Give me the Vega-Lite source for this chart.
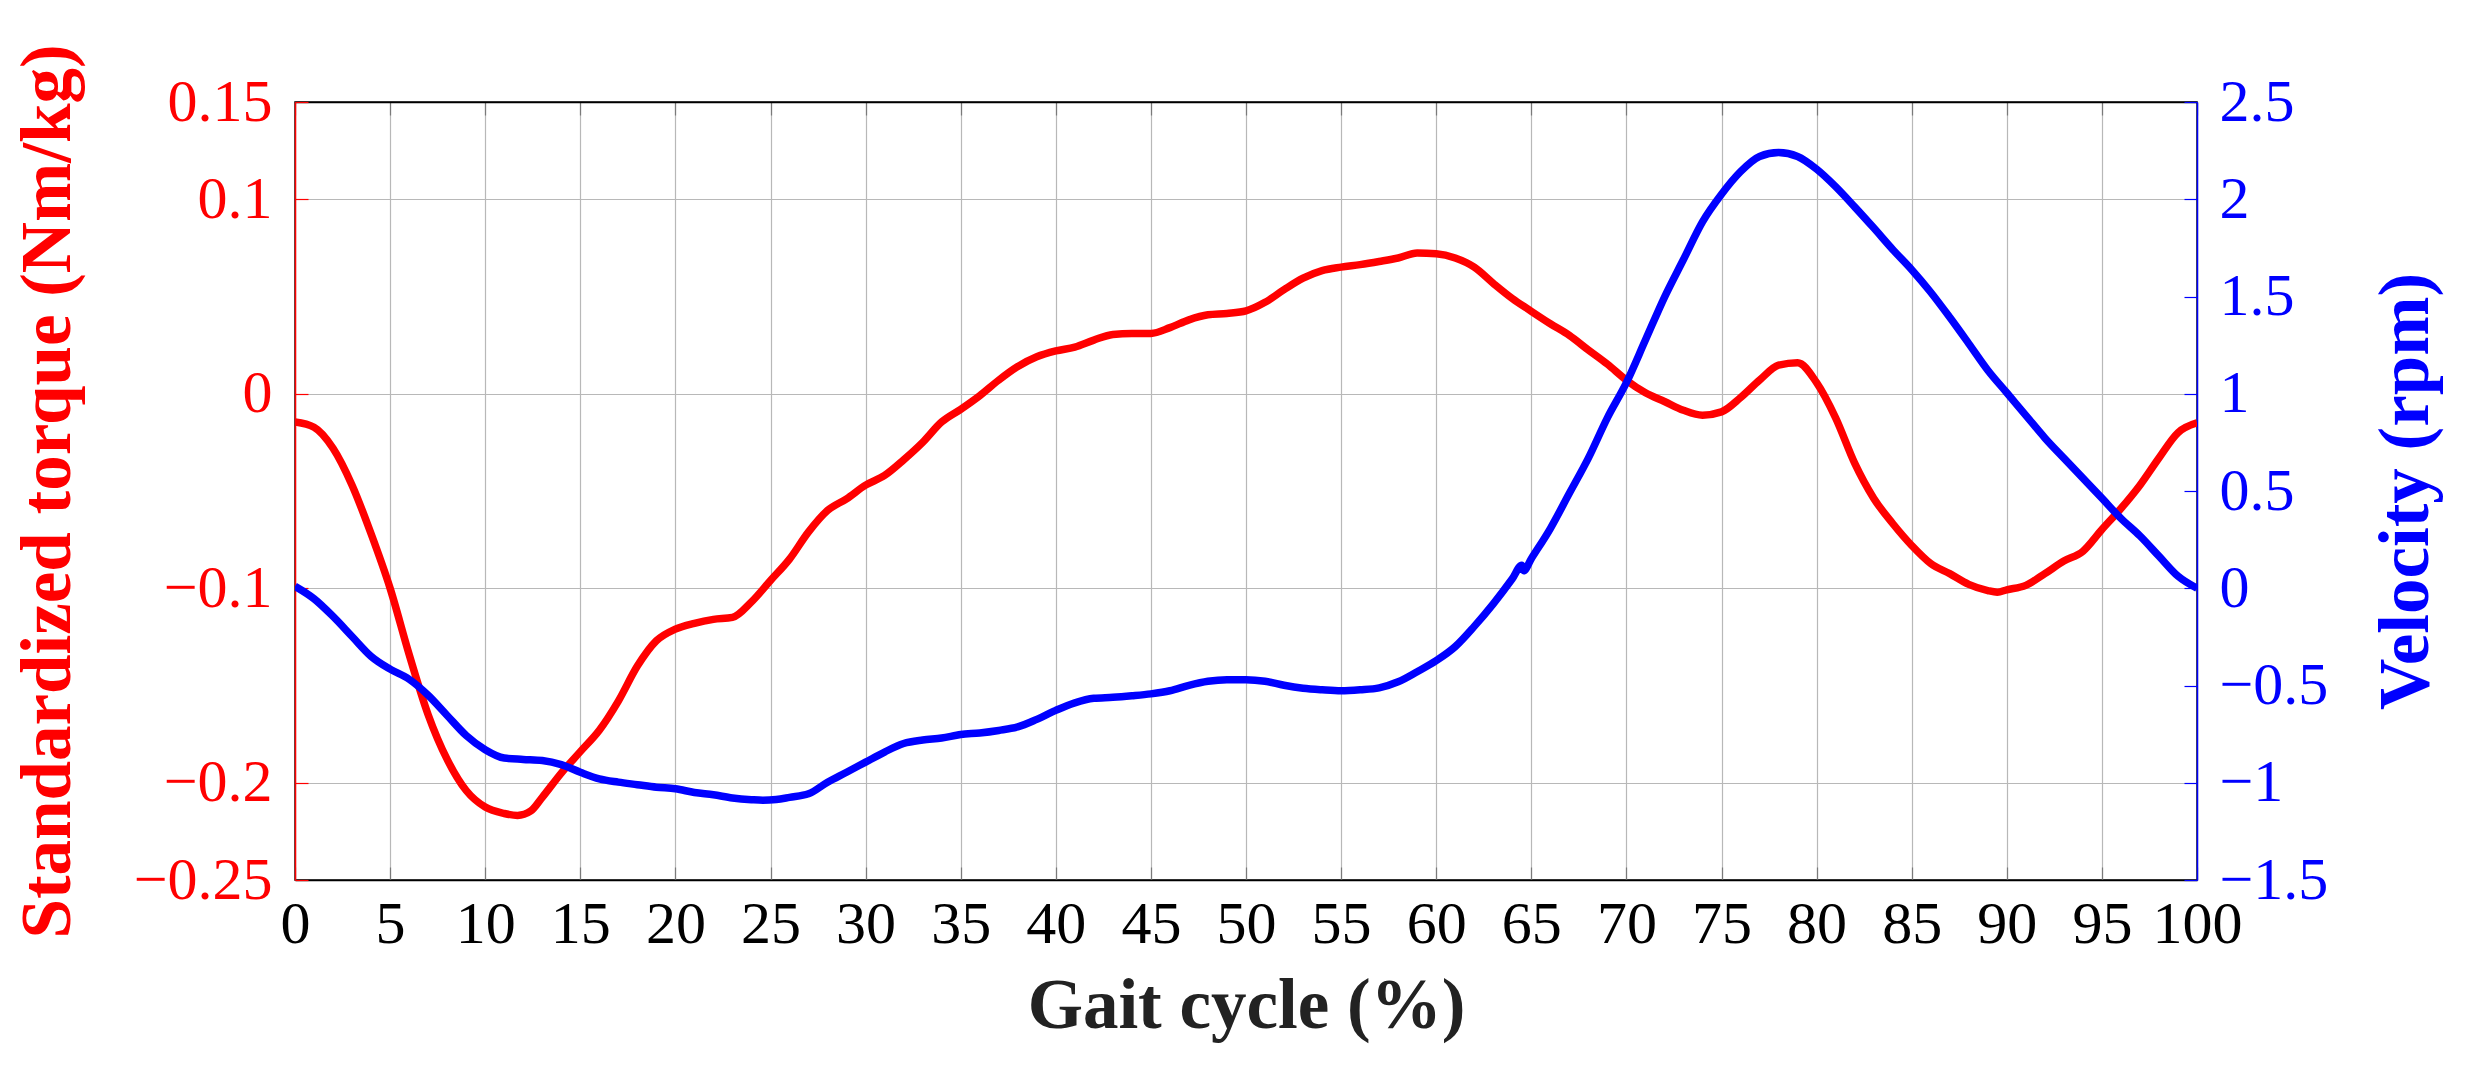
{
  "$schema": "https://vega.github.io/schema/vega-lite/v6.json",
  "width": 1902,
  "height": 778,
  "autosize": {"type": "none"},
  "padding": {"left": 295, "top": 102, "right": 274, "bottom": 186},
  "background": "white",
  "config": {
    "view": {"stroke": "black", "strokeWidth": 1.5},
    "font": "Liberation Serif"
  },
  "datasets": {
    "torque": [
      {"gait": 0, "torque": -0.0145}, {"gait": 1, "torque": -0.0172}, {"gait": 2, "torque": -0.028}, {"gait": 3, "torque": -0.047},
      {"gait": 4, "torque": -0.072}, {"gait": 5, "torque": -0.100}, {"gait": 6, "torque": -0.134}, {"gait": 7, "torque": -0.165},
      {"gait": 8, "torque": -0.188}, {"gait": 9, "torque": -0.204}, {"gait": 10, "torque": -0.2125}, {"gait": 11, "torque": -0.2158},
      {"gait": 11.7, "torque": -0.2168}, {"gait": 12.4, "torque": -0.2145}, {"gait": 13, "torque": -0.2075}, {"gait": 14, "torque": -0.195}, {"gait": 15, "torque": -0.184},
      {"gait": 16, "torque": -0.173}, {"gait": 17, "torque": -0.158}, {"gait": 18, "torque": -0.140}, {"gait": 19, "torque": -0.127},
      {"gait": 20, "torque": -0.121}, {"gait": 21, "torque": -0.118}, {"gait": 22, "torque": -0.116}, {"gait": 23, "torque": -0.115},
      {"gait": 24, "torque": -0.107}, {"gait": 25, "torque": -0.096}, {"gait": 26, "torque": -0.085}, {"gait": 27, "torque": -0.071},
      {"gait": 28, "torque": -0.060}, {"gait": 29, "torque": -0.054}, {"gait": 30, "torque": -0.047}, {"gait": 31, "torque": -0.042},
      {"gait": 32, "torque": -0.034}, {"gait": 33, "torque": -0.025}, {"gait": 34, "torque": -0.0145}, {"gait": 35, "torque": -0.008},
      {"gait": 36, "torque": -0.001}, {"gait": 37, "torque": 0.007}, {"gait": 38, "torque": 0.014}, {"gait": 39, "torque": 0.019},
      {"gait": 40, "torque": 0.022}, {"gait": 41, "torque": 0.024}, {"gait": 42, "torque": 0.0276}, {"gait": 43, "torque": 0.0305},
      {"gait": 44, "torque": 0.031}, {"gait": 45, "torque": 0.031}, {"gait": 46, "torque": 0.034}, {"gait": 47, "torque": 0.038},
      {"gait": 48, "torque": 0.0406}, {"gait": 49, "torque": 0.0413}, {"gait": 50, "torque": 0.0426}, {"gait": 51, "torque": 0.047},
      {"gait": 52, "torque": 0.0535}, {"gait": 53, "torque": 0.0594}, {"gait": 54, "torque": 0.0633}, {"gait": 55, "torque": 0.0651},
      {"gait": 56, "torque": 0.0664}, {"gait": 57, "torque": 0.068}, {"gait": 58, "torque": 0.0698}, {"gait": 59, "torque": 0.0724},
      {"gait": 60, "torque": 0.072}, {"gait": 61, "torque": 0.0698}, {"gait": 62, "torque": 0.0651}, {"gait": 63, "torque": 0.0568},
      {"gait": 64, "torque": 0.049}, {"gait": 65, "torque": 0.0424}, {"gait": 66, "torque": 0.036}, {"gait": 67, "torque": 0.030},
      {"gait": 68, "torque": 0.0225}, {"gait": 69, "torque": 0.0152}, {"gait": 70, "torque": 0.007}, {"gait": 71, "torque": 0.0005},
      {"gait": 72, "torque": -0.004}, {"gait": 73, "torque": -0.0085}, {"gait": 74, "torque": -0.011}, {"gait": 75, "torque": -0.0093},
      {"gait": 76, "torque": -0.002}, {"gait": 77, "torque": 0.007}, {"gait": 78, "torque": 0.0147}, {"gait": 79, "torque": 0.016},
      {"gait": 80, "torque": 0.0057}, {"gait": 81, "torque": -0.0124}, {"gait": 82, "torque": -0.0357}, {"gait": 83, "torque": -0.0537},
      {"gait": 84, "torque": -0.0667}, {"gait": 85, "torque": -0.078}, {"gait": 86, "torque": -0.0873}, {"gait": 87, "torque": -0.0925},
      {"gait": 88, "torque": -0.098}, {"gait": 89, "torque": -0.1012}, {"gait": 89.5, "torque": -0.102}, {"gait": 90, "torque": -0.1008}, {"gait": 91, "torque": -0.0985},
      {"gait": 92, "torque": -0.0925}, {"gait": 93, "torque": -0.086}, {"gait": 94, "torque": -0.081}, {"gait": 95, "torque": -0.0698},
      {"gait": 96, "torque": -0.059}, {"gait": 97, "torque": -0.047}, {"gait": 98, "torque": -0.033}, {"gait": 99, "torque": -0.020},
      {"gait": 100, "torque": -0.015}
    ],
    "velocity": [
      {"gait": 0, "velocity": 0.01}, {"gait": 1, "velocity": -0.054}, {"gait": 2, "velocity": -0.145}, {"gait": 3, "velocity": -0.248},
      {"gait": 4, "velocity": -0.35}, {"gait": 5, "velocity": -0.416}, {"gait": 6, "velocity": -0.468}, {"gait": 7, "velocity": -0.55},
      {"gait": 8, "velocity": -0.654}, {"gait": 9, "velocity": -0.757}, {"gait": 10, "velocity": -0.83}, {"gait": 11, "velocity": -0.873},
      {"gait": 12, "velocity": -0.88}, {"gait": 13, "velocity": -0.886}, {"gait": 14, "velocity": -0.907}, {"gait": 15, "velocity": -0.946},
      {"gait": 16, "velocity": -0.98}, {"gait": 17, "velocity": -0.997}, {"gait": 18, "velocity": -1.01}, {"gait": 19, "velocity": -1.023},
      {"gait": 20, "velocity": -1.031}, {"gait": 21, "velocity": -1.05}, {"gait": 22, "velocity": -1.062}, {"gait": 23, "velocity": -1.078},
      {"gait": 24, "velocity": -1.087}, {"gait": 24.6, "velocity": -1.09}, {"gait": 25.3, "velocity": -1.086}, {"gait": 26, "velocity": -1.075}, {"gait": 27, "velocity": -1.057},
      {"gait": 28, "velocity": -0.997}, {"gait": 29, "velocity": -0.946}, {"gait": 30, "velocity": -0.894}, {"gait": 31, "velocity": -0.842},
      {"gait": 32, "velocity": -0.798}, {"gait": 33, "velocity": -0.78}, {"gait": 34, "velocity": -0.77}, {"gait": 35, "velocity": -0.752},
      {"gait": 36, "velocity": -0.744}, {"gait": 37, "velocity": -0.731}, {"gait": 38, "velocity": -0.713}, {"gait": 39, "velocity": -0.674},
      {"gait": 40, "velocity": -0.628}, {"gait": 41, "velocity": -0.589}, {"gait": 42, "velocity": -0.566}, {"gait": 43, "velocity": -0.561},
      {"gait": 44, "velocity": -0.553}, {"gait": 45, "velocity": -0.543}, {"gait": 46, "velocity": -0.527}, {"gait": 47, "velocity": -0.499},
      {"gait": 48, "velocity": -0.478}, {"gait": 49, "velocity": -0.47}, {"gait": 50, "velocity": -0.47}, {"gait": 51, "velocity": -0.478},
      {"gait": 52, "velocity": -0.499}, {"gait": 53, "velocity": -0.514}, {"gait": 54, "velocity": -0.522}, {"gait": 55, "velocity": -0.527},
      {"gait": 56, "velocity": -0.522}, {"gait": 57, "velocity": -0.512}, {"gait": 58, "velocity": -0.481}, {"gait": 59, "velocity": -0.429},
      {"gait": 60, "velocity": -0.372}, {"gait": 61, "velocity": -0.30}, {"gait": 62, "velocity": -0.196}, {"gait": 63, "velocity": -0.08},
      {"gait": 64, "velocity": 0.049}, {"gait": 64.5, "velocity": 0.118}, {"gait": 64.6, "velocity": 0.09}, {"gait": 65, "velocity": 0.152},
      {"gait": 66, "velocity": 0.307}, {"gait": 67, "velocity": 0.488}, {"gait": 68, "velocity": 0.669}, {"gait": 69, "velocity": 0.876},
      {"gait": 70, "velocity": 1.057}, {"gait": 71, "velocity": 1.276}, {"gait": 72, "velocity": 1.496}, {"gait": 73, "velocity": 1.69},
      {"gait": 74, "velocity": 1.884}, {"gait": 75, "velocity": 2.026}, {"gait": 76, "velocity": 2.142}, {"gait": 77, "velocity": 2.22},
      {"gait": 78, "velocity": 2.24}, {"gait": 79, "velocity": 2.22}, {"gait": 80, "velocity": 2.155}, {"gait": 81, "velocity": 2.065},
      {"gait": 82, "velocity": 1.961}, {"gait": 83, "velocity": 1.853}, {"gait": 84, "velocity": 1.742}, {"gait": 85, "velocity": 1.638},
      {"gait": 86, "velocity": 1.522}, {"gait": 87, "velocity": 1.393}, {"gait": 88, "velocity": 1.258}, {"gait": 89, "velocity": 1.121},
      {"gait": 90, "velocity": 1.005}, {"gait": 91, "velocity": 0.889}, {"gait": 92, "velocity": 0.773}, {"gait": 93, "velocity": 0.669},
      {"gait": 94, "velocity": 0.566}, {"gait": 95, "velocity": 0.463}, {"gait": 96, "velocity": 0.359}, {"gait": 97, "velocity": 0.269},
      {"gait": 98, "velocity": 0.165}, {"gait": 99, "velocity": 0.062}, {"gait": 100, "velocity": 0.0}
    ]
  },
  "layer": [
    {
      "data": {"name": "torque"},
      "mark": {"type": "line", "color": "#ff0000", "strokeWidth": 7.5, "interpolate": "monotone", "clip": true},
      "encoding": {
        "x": {
          "field": "gait", "type": "quantitative",
          "scale": {"domain": [0, 100], "nice": false, "zero": false},
          "axis": {
            "orient": "bottom",
            "values": [0, 5, 10, 15, 20, 25, 30, 35, 40, 45, 50, 55, 60, 65, 70, 75, 80, 85, 90, 95, 100],
            "format": "d",
            "labelFont": "Liberation Serif", "labelFontSize": 60, "labelColor": "black",
            "labelPadding": 28, "labelFlush": false, "labelOverlap": false,
            "tickColor": "#7a7a7a", "tickSize": -13, "tickWidth": 1.2,
            "domainColor": "black", "domainWidth": 1.5,
            "grid": true, "gridColor": "#b8b8b8", "gridWidth": 1.2,
            "title": "Gait cycle (%)",
            "titleFont": "Liberation Serif", "titleFontSize": 71, "titleFontWeight": "bold", "titleColor": "#222222",
            "titleBaseline": "alphabetic", "titleY": 147, "titleX": 951, "titleAlign": "center"
          }
        },
        "y": {
          "field": "torque", "type": "quantitative",
          "scale": {"domain": [-0.25, 0.15], "nice": false, "zero": false},
          "axis": {
            "orient": "left",
            "values": [-0.25, -0.2, -0.1, 0, 0.1, 0.15],
            "format": "~g",
            "labelFont": "Liberation Serif", "labelFontSize": 60, "labelColor": "#ff0000",
            "labelPadding": 36, "labelFlush": false, "labelOverlap": false,
            "tickColor": "#ff0000", "tickSize": -13, "tickWidth": 1.2,
            "domainColor": "#ff0000", "domainWidth": 1.5,
            "grid": true, "gridColor": "#b8b8b8", "gridWidth": 1.2,
            "title": "Standardized torque (Nm/kg)",
            "titleFont": "Liberation Serif", "titleFontSize": 71, "titleFontWeight": "bold", "titleColor": "#ff0000",
            "titleAngle": 270, "titleBaseline": "alphabetic", "titleAlign": "center",
            "titleX": -226, "titleY": 389
          }
        }
      }
    },
    {
      "data": {"name": "velocity"},
      "mark": {"type": "line", "color": "#0000ff", "strokeWidth": 7.5, "interpolate": "monotone", "clip": true},
      "encoding": {
        "x": {
          "field": "gait", "type": "quantitative",
          "axis": {
            "orient": "top",
            "values": [0, 5, 10, 15, 20, 25, 30, 35, 40, 45, 50, 55, 60, 65, 70, 75, 80, 85, 90, 95, 100],
            "labels": false,
            "tickColor": "#7a7a7a", "tickSize": -13, "tickWidth": 1.2,
            "domainColor": "black", "domainWidth": 1.5,
            "grid": false, "title": null
          }
        },
        "y": {
          "field": "velocity", "type": "quantitative",
          "scale": {"domain": [-1.5, 2.5], "nice": false, "zero": false},
          "axis": {
            "orient": "right",
            "values": [-1.5, -1, -0.5, 0, 0.5, 1, 1.5, 2, 2.5],
            "format": "~g",
            "labelFont": "Liberation Serif", "labelFontSize": 60, "labelColor": "#0000ff",
            "labelPadding": 35, "labelFlush": false, "labelOverlap": false,
            "tickColor": "#0000ff", "tickSize": -13, "tickWidth": 1.2,
            "domainColor": "#0000ff", "domainWidth": 1.5,
            "grid": false,
            "title": "Velocity (rpm)",
            "titleFont": "Liberation Serif", "titleFontSize": 71, "titleFontWeight": "bold", "titleColor": "#0000ff",
            "titleAngle": 270, "titleBaseline": "alphabetic", "titleAlign": "center",
            "titleX": 230, "titleY": 389
          }
        }
      }
    }
  ],
  "resolve": {"scale": {"y": "independent"}, "axis": {"x": "independent"}}
}
